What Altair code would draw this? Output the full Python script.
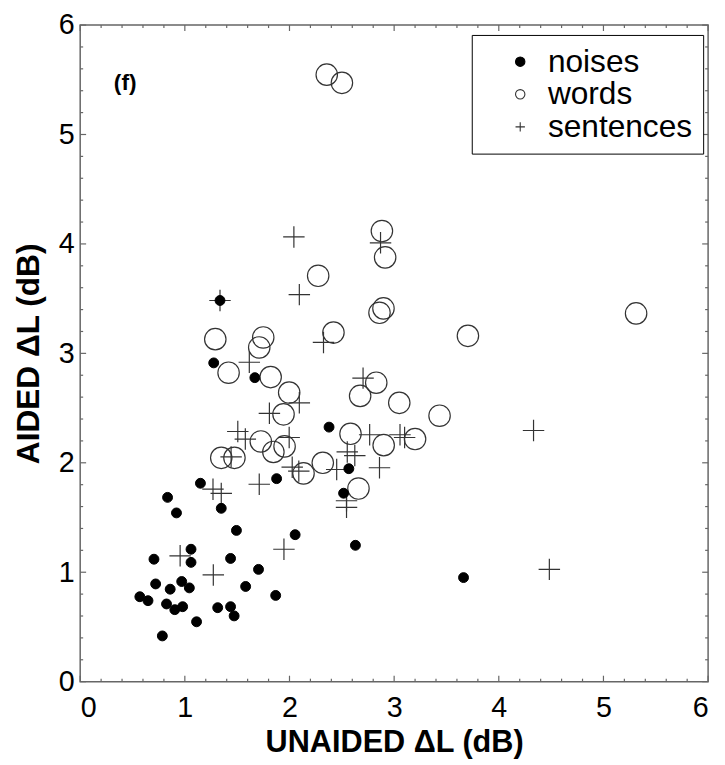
import altair as alt
import pandas as pd

# ---------------- data ----------------
noises_x = [1.149, 1.877, 0.835, 0.920, 1.348, 1.493, 2.054, 1.059, 0.705, 1.059,
            1.437, 1.704, 0.721, 0.970, 0.860, 1.043, 1.581, 0.570, 0.648, 1.868,
            0.825, 0.904, 0.979, 1.314, 1.437, 1.471, 1.112, 0.785, 1.336, 1.276,
            1.669, 2.378, 2.567, 2.517, 2.630, 3.663]
noises_y = [1.813, 1.855, 1.684, 1.542, 1.584, 1.382, 1.343, 1.210, 1.119, 1.090,
            1.126, 1.026, 0.893, 0.915, 0.845, 0.857, 0.870, 0.776, 0.740, 0.788,
            0.710, 0.658, 0.685, 0.676, 0.685, 0.601, 0.547, 0.418, 3.483, 2.913,
            2.778, 2.326, 1.946, 1.722, 1.246, 0.951]

words_x = [2.883, 2.914, 2.274, 2.898, 2.860, 2.420, 1.291, 1.749, 1.711, 1.418,
           1.820, 2.829, 2.675, 1.997, 3.049, 1.943, 3.434, 2.583, 1.726, 2.900,
           3.200, 1.846, 1.953, 1.348, 1.474, 2.318, 2.134, 2.659, 3.705, 5.312,
           2.356, 2.501]
words_y = [4.118, 3.877, 3.709, 3.411, 3.371, 3.190, 3.130, 3.145, 3.054, 2.823,
           2.783, 2.732, 2.611, 2.642, 2.548, 2.443, 2.430, 2.265, 2.195, 2.161,
           2.217, 2.099, 2.150, 2.045, 2.045, 2.000, 1.903, 1.765, 3.160, 3.365,
           5.547, 5.472]

sentences_x = [2.042, 2.870, 2.094, 1.336, 2.325, 1.616, 2.703, 2.094, 1.808, 1.506,
               1.578, 1.997, 2.766, 3.056, 3.100, 2.552, 2.624, 1.442, 2.026, 2.860,
               2.451, 2.089, 1.269, 1.348, 1.711, 0.955, 1.272, 1.947, 2.545, 2.545,
               4.332, 4.483]
sentences_y = [4.064, 4.010, 3.537, 3.483, 3.100, 2.919, 2.774, 2.548, 2.452, 2.286,
               2.217, 2.231, 2.256, 2.256, 2.231, 2.099, 2.066, 2.054, 1.960, 1.955,
               1.939, 1.924, 1.759, 1.720, 1.804, 1.150, 0.975, 1.210, 1.653, 1.593,
               2.295, 1.026]

series_names = ["noises", "words", "sentences"]

major_ticks = [0, 1, 2, 3, 4, 5, 6]
minor_ticks = [0.2, 0.4, 0.6, 0.8, 1.2, 1.4, 1.6, 1.8, 2.2, 2.4, 2.6, 2.8,
               3.2, 3.4, 3.6, 3.8, 4.2, 4.4, 4.6, 4.8, 5.2, 5.4, 5.6, 5.8]

panel_label = ["(f)"]
panel_label_x = [0.43]
panel_label_y = [5.47]

x_title = "UNAIDED \u0394L (dB)"
y_title = "AIDED \u0394L (dB)"

# ---------------- build ----------------
W, H = 635, 664
FONT = "Liberation Sans"
FRAME = "#666666"

df_noise = pd.DataFrame({"x": noises_x, "y": noises_y, "series": "noises"})
df_words = pd.DataFrame({"x": words_x, "y": words_y, "series": "words"})
df_sent = pd.DataFrame({"x": sentences_x, "y": sentences_y, "series": "sentences"})

xs = alt.Scale(domain=[0, 6], nice=False, zero=False)
ys = alt.Scale(domain=[0, 6], nice=False, zero=False)

plus_path = "M-1,0H1M0,-1V1"

legend = alt.Legend(
    title=None, orient="none", legendX=396, legendY=10,
    strokeColor="black", fillColor="white", padding=11,
    labelFont=FONT, labelFontSize=32, labelColor="black",
    symbolOffset=22, labelOffset=12, rowPadding=1,
    symbolStrokeWidth=1.1, symbolSize=90,
)

shape_enc = alt.Shape("series:N", scale=alt.Scale(domain=series_names, range=["circle", "circle", plus_path]), legend=legend)
fill_enc = alt.Fill("series:N", scale=alt.Scale(domain=series_names, range=["#000000", "transparent", "transparent"]), legend=legend)
stroke_enc = alt.Stroke("series:N", scale=alt.Scale(domain=series_names, range=["#000000", "#333333", "#333333"]), legend=legend)

x_axis = alt.Axis(values=major_ticks, ticks=False, domain=False, grid=False, title=x_title,
                  labelFontSize=29, labelPadding=12, titleFontSize=31, titlePadding=6)
y_axis = alt.Axis(values=major_ticks, ticks=False, domain=False, grid=False, title=y_title,
                  labelFontSize=29, labelPadding=6, titleFontSize=32, titlePadding=13)

def pts(df, size, sw):
    return alt.Chart(df).mark_point(strokeWidth=sw, opacity=1).encode(
        x=alt.X("x:Q", scale=xs, axis=x_axis),
        y=alt.Y("y:Q", scale=ys, axis=y_axis),
        shape=shape_enc, fill=fill_enc, stroke=stroke_enc,
        size=alt.value(size),
    )

l_noise = pts(df_noise, 100, 1)
l_words = pts(df_words, 470, 1.2)
l_sent = pts(df_sent, 470, 1.2)

maj_df = pd.DataFrame({"t": major_ticks})
min_df = pd.DataFrame({"t": minor_ticks})

def xt(df, y0, y1):
    return alt.Chart(df).mark_rule(color=FRAME, strokeWidth=1.2).encode(
        x=alt.X("t:Q", scale=xs, axis=x_axis), y=alt.value(y0), y2=alt.value(y1))

def yt(df, x0, x1):
    return alt.Chart(df).mark_rule(color=FRAME, strokeWidth=1.2).encode(
        y=alt.Y("t:Q", scale=ys, axis=y_axis), x=alt.value(x0), x2=alt.value(x1))

ticks = [
    xt(min_df, H, H - 3), xt(maj_df, H, H - 6), xt(min_df, 0, 3), xt(maj_df, 0, 6),
    yt(min_df, 0, 3), yt(maj_df, 0, 6), yt(min_df, W, W - 3), yt(maj_df, W, W - 6),
]

lab_df = pd.DataFrame({"x": panel_label_x, "y": panel_label_y, "text": panel_label})
lab = alt.Chart(lab_df).mark_text(font=FONT, fontSize=23, fontWeight="bold", color="black").encode(
    x=alt.X("x:Q", scale=xs, axis=x_axis), y=alt.Y("y:Q", scale=ys, axis=y_axis), text="text:N")

chart = alt.layer(l_words, l_sent, l_noise, *ticks, lab).properties(
    width=W, height=H,
    autosize="none",
    padding={"left": 73, "top": 13, "right": 9, "bottom": 78},
).configure(font=FONT).configure_view(
    stroke=FRAME, strokeWidth=1.5
).configure_axis(
    labelFont=FONT, titleFont=FONT, labelColor="black", titleColor="black",
    titleFontWeight="bold", labelFontWeight="normal",
)

chart.save("out.html", embed_options={"renderer": "svg", "actions": False})
